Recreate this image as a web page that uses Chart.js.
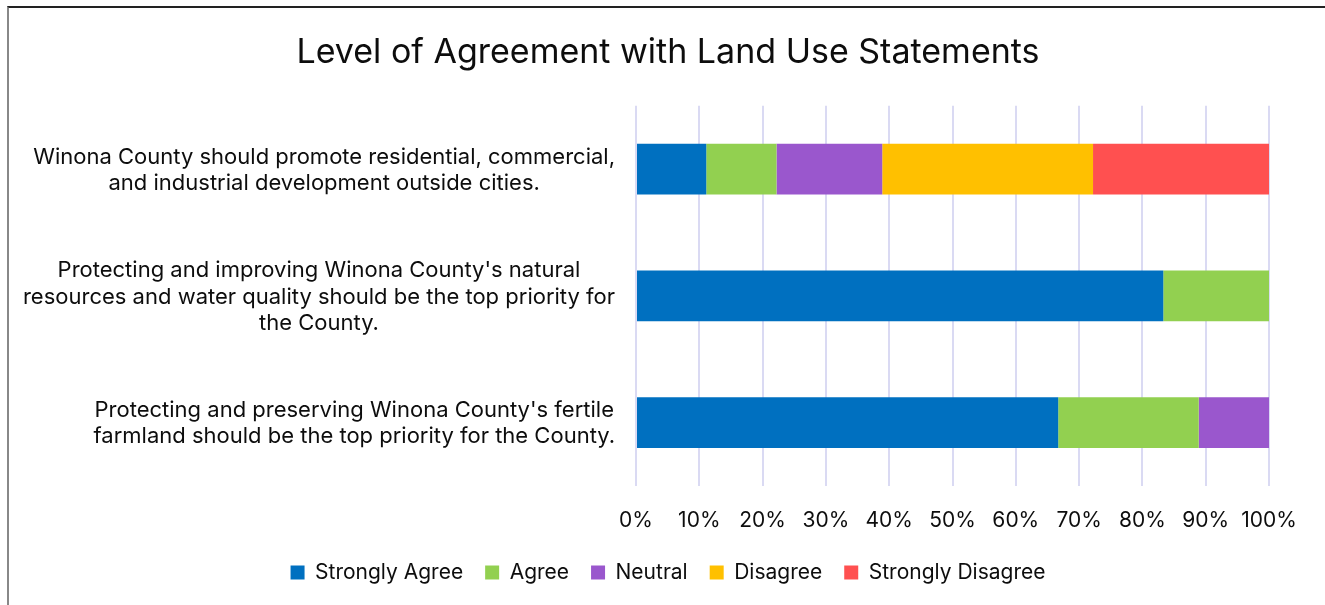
<!DOCTYPE html>
<html>
<head>
<meta charset="utf-8">
<script src="https://cdn.jsdelivr.net/npm/chart.js@4.4.0/dist/chart.umd.min.js"></script>
<style>
  html, body { margin: 0; padding: 0; background: #fff; }
  #wrap { position: absolute; left: 0; top: 0; width: 1325px; height: 605px; }
  #frame { position: absolute; left: 7px; top: 6px; right: 0; bottom: 0; border-top: 2px solid #222; border-left: 2px solid #888; pointer-events: none; }
  canvas { position: absolute; left: 0; top: 0; }
</style>
</head>
<body>
<div id="wrap">
  <canvas id="chart" width="1325" height="605"></canvas>
  <div id="frame"></div>
</div>
<script>
const categories = [
    ['Winona County should promote residential, commercial,', 'and industrial development outside cities.'],
    ["Protecting and improving Winona County's natural", 'resources and water quality should be the top priority for', 'the County.'],
    ["Protecting and preserving Winona County's fertile", 'farmland should be the top priority for the County.']
];
const seriesNames = ['Strongly Agree', 'Agree', 'Neutral', 'Disagree', 'Strongly Disagree'];
const stronglyAgree = [11.1, 83.3, 66.7];
const agree = [11.1, 16.7, 22.2];
const neutral = [16.7, 0, 11.1];
const disagree = [33.3, 0, 0];
const stronglyDisagree = [27.8, 0, 0];
const tickLabels = ['0%', '10%', '20%', '30%', '40%', '50%', '60%', '70%', '80%', '90%', '100%'];

const colors = ['#0070C0', '#92D050', '#9A57CD', '#FFC000', '#FF5050'];
const values = [stronglyAgree, agree, neutral, disagree, stronglyDisagree];

Chart.defaults.font.family = 'Inter';
Chart.defaults.color = '#0d0d0d';

// category labels: block right-aligned to the axis, lines centred inside it
const labelPlugin = {
    id: 'catLabels',
    afterDraw(chart) {
        const ctx = chart.ctx;
        const yScale = chart.scales.y;
        const right = chart.chartArea.left - 21;
        ctx.save();
        ctx.font = '22px Inter';
        ctx.fillStyle = '#0d0d0d';
        ctx.textAlign = 'center';
        ctx.textBaseline = 'middle';
        categories.forEach((lines, i) => {
            const cy = yScale.getPixelForValue(i) + 1;
            const w = Math.max(...lines.map(l => ctx.measureText(l).width));
            const cx = right - w / 2;
            lines.forEach((l, j) => {
                ctx.fillText(l, cx, cy + (j - (lines.length - 1) / 2) * 26.5);
            });
        });
        ctx.restore();
    }
};

const ctx = document.getElementById('chart').getContext('2d');
const chart = new Chart(ctx, {
    type: 'bar',
    data: {
        labels: categories,
        datasets: seriesNames.map((name, i) => ({
            label: name,
            data: values[i],
            backgroundColor: colors[i],
            borderWidth: 0,
            categoryPercentage: 0.8,
            barPercentage: 0.5
        }))
    },
    options: {
        indexAxis: 'y',
        responsive: false,
        animation: false,
        layout: {
            padding: { left: 67, right: 56, top: 0, bottom: 12 }
        },
        plugins: {
            title: {
                display: true,
                text: 'Level of Agreement with Land Use Statements',
                font: { size: 34, weight: 'normal' },
                color: '#0d0d0d',
                padding: { top: 32, bottom: 33 }
            },
            legend: {
                position: 'bottom',
                labels: {
                    boxWidth: 14,
                    boxHeight: 14,
                    padding: 22,
                    font: { size: 21 },
                    color: '#0d0d0d'
                }
            },
            tooltip: { enabled: false }
        },
        scales: {
            x: {
                stacked: true,
                min: 0,
                max: 100,
                ticks: {
                    stepSize: 10,
                    padding: 22,
                    font: { size: 21 },
                    color: '#0d0d0d',
                    callback: (v, i) => tickLabels[i]
                },
                grid: {
                    color: '#dadaf3',
                    lineWidth: 2,
                    drawTicks: false
                },
                border: { display: false },
                afterFit: (scale) => { scale.height = 54; }
            },
            y: {
                stacked: true,
                ticks: { display: false },
                grid: { display: false },
                border: { display: false },
                afterFit: (scale) => { scale.width = 569; }
            }
        }
    },
    plugins: [labelPlugin]
});
</script>
</body>
</html>
